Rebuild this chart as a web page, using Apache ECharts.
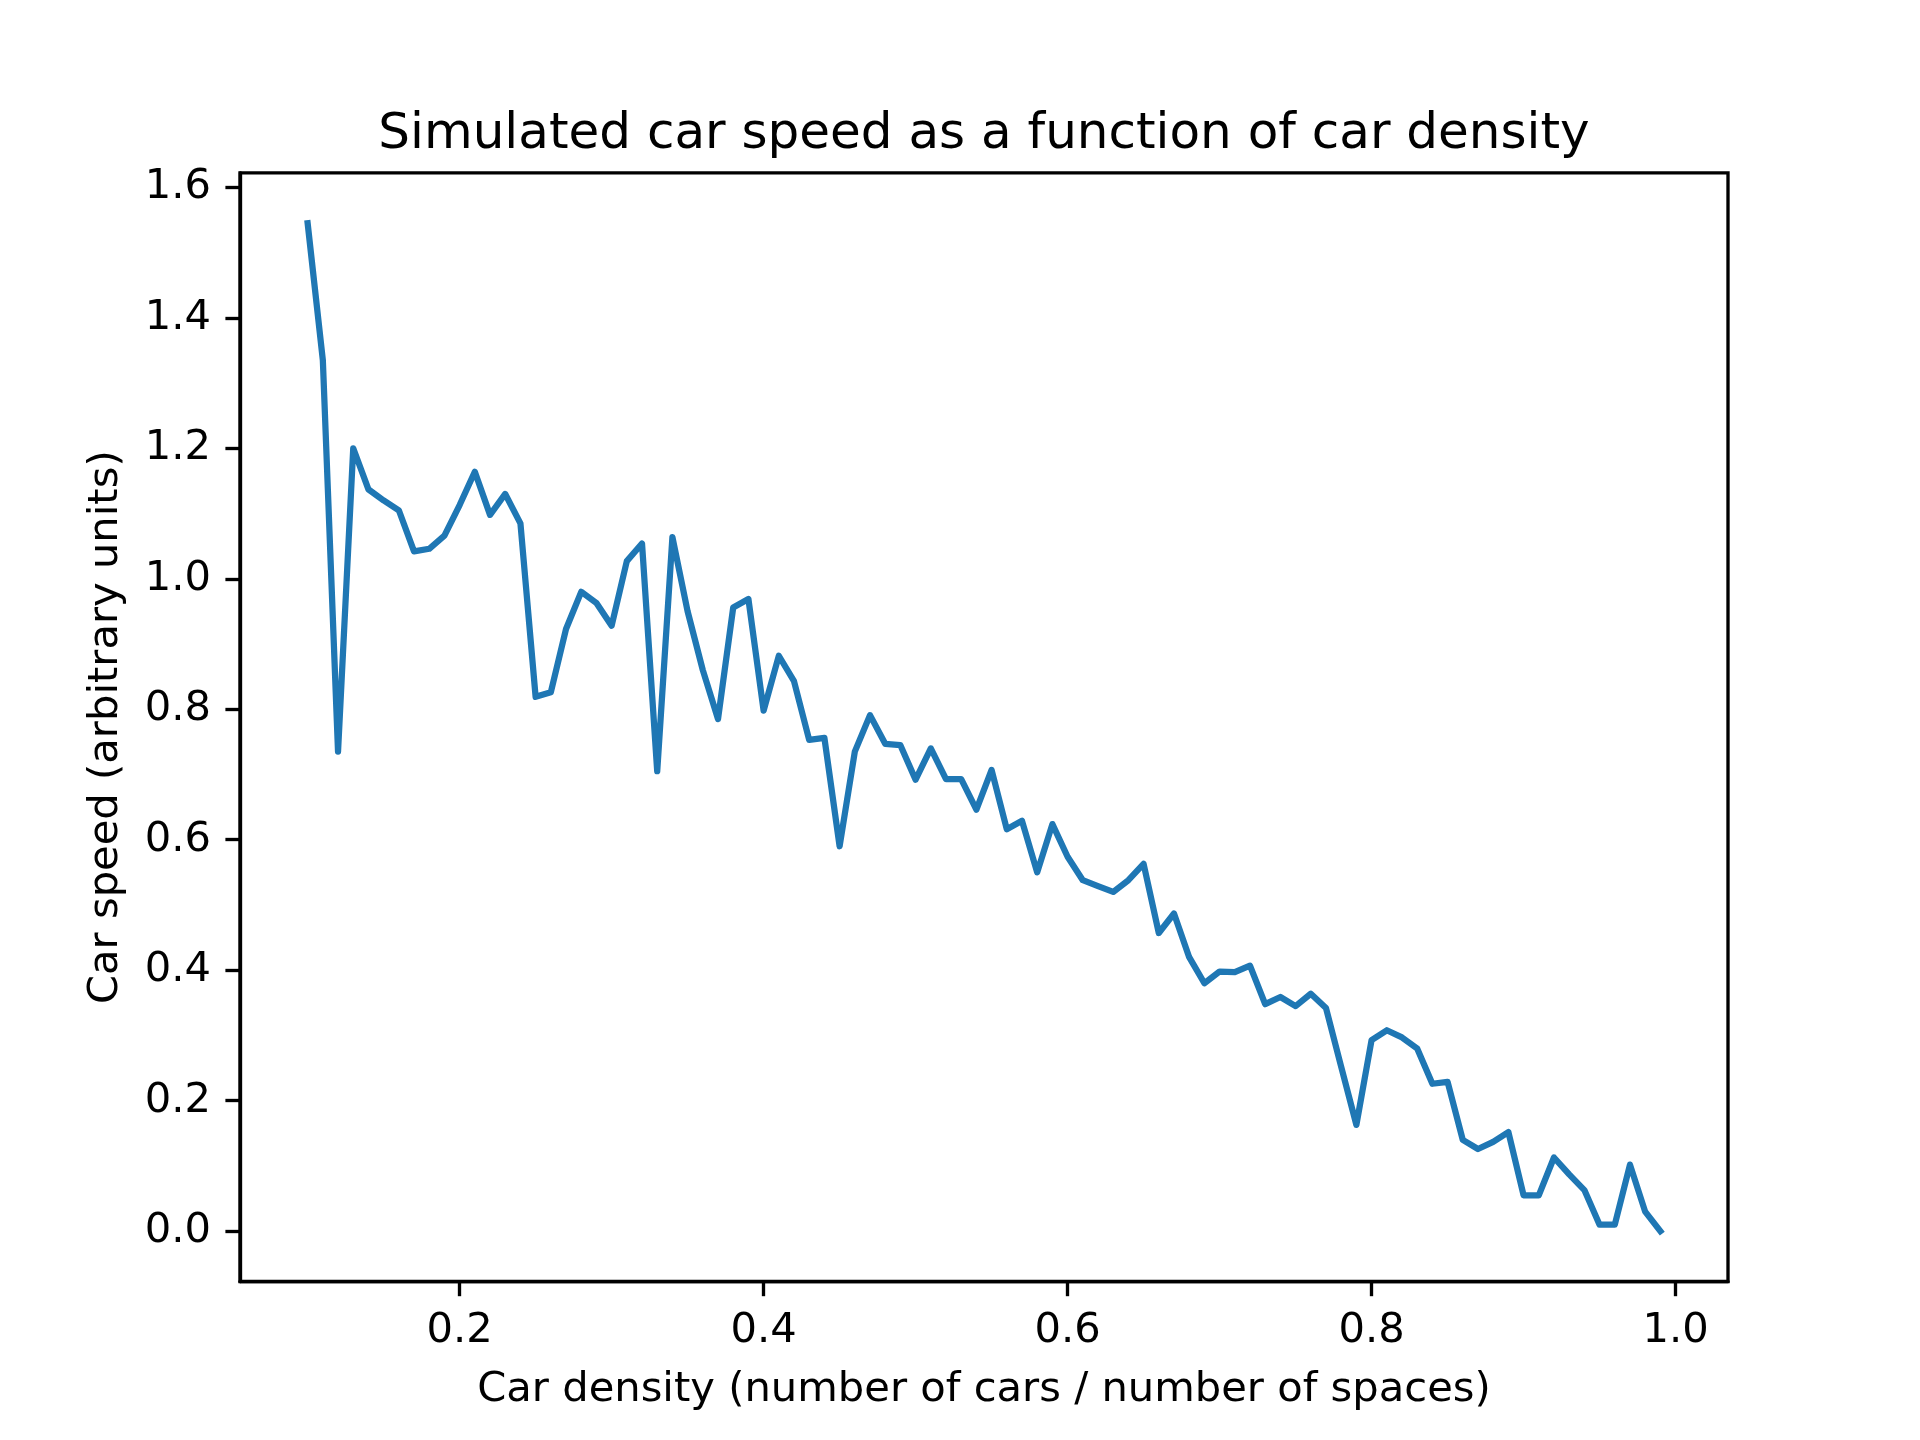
<!DOCTYPE html>
<html>
<head>
<meta charset="utf-8">
<script src="https://cdn.jsdelivr.net/npm/echarts@6/dist/echarts.min.js"></script>
<style>
html,body{margin:0;padding:0;background:#fff;}
#chart{width:1920px;height:1440px;}
</style>
</head>
<body>
<div id="chart"></div>
<script>
const density = [0.10,0.11,0.12,0.13,0.14,0.15,0.16,0.17,0.18,0.19,
  0.20,0.21,0.22,0.23,0.24,0.25,0.26,0.27,0.28,0.29,
  0.30,0.31,0.32,0.33,0.34,0.35,0.36,0.37,0.38,0.39,
  0.40,0.41,0.42,0.43,0.44,0.45,0.46,0.47,0.48,0.49,
  0.50,0.51,0.52,0.53,0.54,0.55,0.56,0.57,0.58,0.59,
  0.60,0.61,0.62,0.63,0.64,0.65,0.66,0.67,0.68,0.69,
  0.70,0.71,0.72,0.73,0.74,0.75,0.76,0.77,0.78,0.79,
  0.80,0.81,0.82,0.83,0.84,0.85,0.86,0.87,0.88,0.89,
  0.90,0.91,0.92,0.93,0.94,0.95,0.96,0.97,0.98,0.99];
const speed = [1.545,1.335,0.735,1.200,1.137,1.120,1.105,1.042,1.046,1.066,
  1.113,1.164,1.098,1.130,1.085,0.819,0.826,0.923,0.980,0.963,
  0.928,1.027,1.054,0.705,1.064,0.950,0.860,0.785,0.956,0.969,
  0.798,0.882,0.843,0.753,0.756,0.590,0.735,0.791,0.747,0.745,
  0.692,0.740,0.693,0.693,0.646,0.707,0.616,0.629,0.550,0.624,
  0.574,0.538,0.529,0.520,0.538,0.563,0.457,0.487,0.420,0.380,
  0.398,0.397,0.407,0.348,0.359,0.345,0.364,0.342,0.252,0.163,
  0.293,0.308,0.297,0.280,0.226,0.229,0.140,0.126,0.137,0.152,
  0.055,0.055,0.113,0.087,0.063,0.010,0.010,0.102,0.030,0.000];
const xTicks = [0.2,0.4,0.6,0.8,1.0];
const yTicks = [0.0,0.2,0.4,0.6,0.8,1.0,1.2,1.4,1.6];
const titleText = 'Simulated car speed as a function of car density';
const xLabelText = 'Car density (number of cars / number of spaces)';
const yLabelText = 'Car speed (arbitrary units)';

const FONT = 'DejaVu Sans';
const FS = 41.67;
const GL = 240, GT = 172.8, GW = 1488, GH = 1108.8;

function padRange(arr){
  const mn = Math.min.apply(null, arr), mx = Math.max.apply(null, arr);
  const p = (mx - mn) * 0.05;
  return [mn - p, mx + p];
}
const xr = padRange(density);
const yr = padRange(speed);
const pts = density.map((d, i) => [d, speed[i]]);

const chart = echarts.init(document.getElementById('chart'), null, {renderer: 'canvas'});
const axisCommon = {
  type: 'value',
  splitLine: {show: false},
  axisLine: {show: true, onZero: false, lineStyle: {color: '#000', width: 3.33}},
  axisTick: {show: true, inside: false, length: 14.6, lineStyle: {color: '#000', width: 3.33}},
  axisLabel: {color: '#000', fontFamily: FONT, fontSize: FS, margin: 29, formatter: v => v.toFixed(1)}
};
chart.setOption({
  animation: false,
  backgroundColor: '#fff',
  grid: {left: GL, top: GT, width: GW, height: GH, show: true, borderColor: '#000', borderWidth: 3.33, containLabel: false},
  xAxis: Object.assign({}, axisCommon, {
    min: xr[0], max: xr[1],
    axisTick: Object.assign({}, axisCommon.axisTick, {customValues: xTicks}),
    axisLabel: Object.assign({}, axisCommon.axisLabel, {customValues: xTicks})
  }),
  yAxis: Object.assign({}, axisCommon, {
    min: yr[0], max: yr[1],
    axisTick: Object.assign({}, axisCommon.axisTick, {customValues: yTicks}),
    axisLabel: Object.assign({}, axisCommon.axisLabel, {customValues: yTicks})
  }),
  series: [{
    type: 'line',
    data: pts,
    showSymbol: false,
    symbol: 'none',
    lineStyle: {color: '#1f77b4', width: 6.25, join: 'round', cap: 'square'}
  }],
  graphic: [
    {type: 'text', x: GL + GW / 2, y: 135, style: {text: titleText, font: '50px "DejaVu Sans"', fill: '#000', align: 'center', verticalAlign: 'middle'}},
    {type: 'text', x: GL + GW / 2, y: 1390, style: {text: xLabelText, font: FS + 'px "DejaVu Sans"', fill: '#000', align: 'center', verticalAlign: 'middle'}},
    {type: 'text', x: 106, y: GT + GH / 2, rotation: Math.PI / 2, style: {text: yLabelText, font: FS + 'px "DejaVu Sans"', fill: '#000', align: 'center', verticalAlign: 'middle'}}
  ]
});
</script>
</body>
</html>
